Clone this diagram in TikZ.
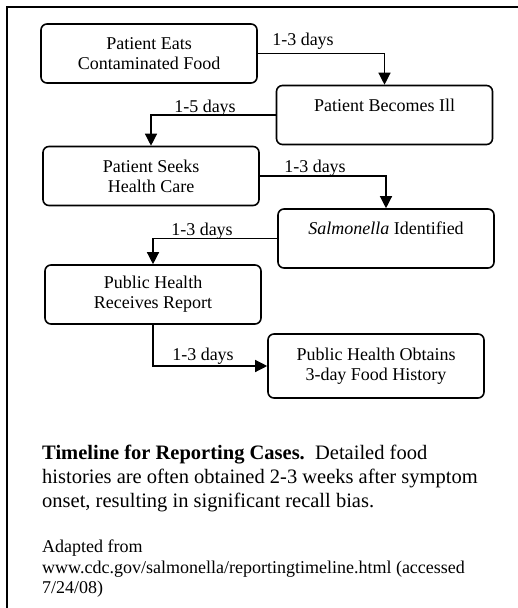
\documentclass[tikz,border=0pt]{standalone}
\usepackage{fontspec}
\setmainfont{Liberation Serif}
\usetikzlibrary{arrows.meta}

\begin{document}
\begin{tikzpicture}[x=1pt, y=-1pt, auto]
      \tikzset{
	  event/.style={rectangle, rounded corners=6pt, draw=black, line width=1.6pt, minimum width=216pt, minimum height=59pt, inner sep=2pt, align=center, font=\fontsize{18}{20}\selectfont},
	  delay/.style={anchor=base, inner sep=0pt, font=\fontsize{18}{20}\selectfont},
	  flow/.style={draw=black, line width=1.3pt, -{Triangle[length=12pt, width=12pt]}},
	  note/.style={anchor=north west, inner sep=0pt, align=left}
      }

      \useasboundingbox (0,0) rectangle (518,608);
      \draw[line width=1.6pt] (518,7) -- (7,7) -- (7,608);

      % the reporting chain
      \node[event] (eats) at (149,53.5) {Patient Eats\\Contaminated Food};
      \node[event] (ill) at (384.5,115) {Patient Becomes Ill\\\mbox{}};
      \node[event] (seeks) at (151,176) {Patient Seeks\\Health Care};
      \node[event] (salm) at (386,238.5) {\textit{Salmonella} Identified\\\mbox{}};
      \node[event] (report) at (153,294.5) {Public Health\\Receives Report};
      \node[event, minimum height=64pt] (history) at (376,366) {Public Health Obtains\\3-day Food History};

      \draw[flow] (eats.east) -| (ill.north);
      \draw[flow] (ill.west) -| (seeks.north);
      \draw[flow] (seeks.east) -| (salm.north);
      \draw[flow] (salm.west) -| (report.north);
      \draw[flow] (report.south) |- (history.west);

      \node[delay] (d1) at (303,45) {1-3 days};
      \node[delay] (d2) at (205,112) {1-5 days};
      \node[delay] (d3) at (315,172) {1-3 days};
      \node[delay] (d4) at (202,235) {1-3 days};
      \node[delay] (d5) at (203,360) {1-3 days};

      % caption and source
      \node[note, font=\fontsize{20.5}{24}\selectfont] (caption) at (42,445) {\textbf{Timeline for Reporting Cases.}\ \ Detailed food\\histories are often obtained 2-3 weeks after symptom\\onset, resulting in significant recall bias.};
      \node[note, font=\fontsize{18}{20.5}\selectfont] (source) at (42,540) {Adapted from\\www.cdc.gov/salmonella/reportingtimeline.html (accessed\\7/24/08)};
    \end{tikzpicture}
\end{document}
